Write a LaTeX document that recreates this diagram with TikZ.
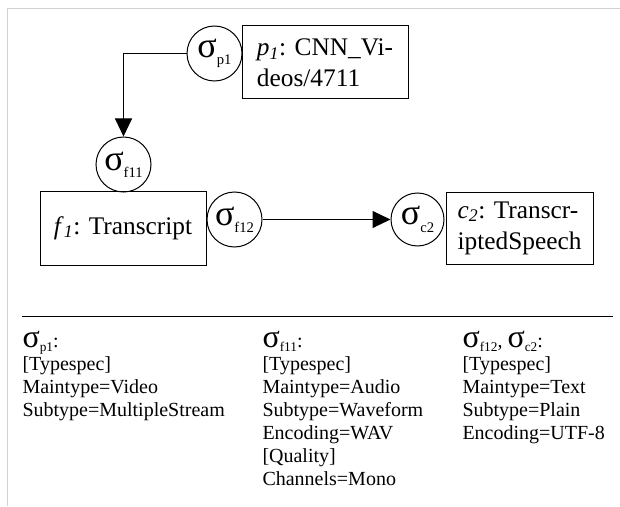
\documentclass[tikz,border=0pt]{standalone}
\usepackage{fontspec}
\setmainfont{Liberation Serif}
\usetikzlibrary{arrows.meta}

% sigma with a low subscript, inside the circles
\newcommand\csig[1]{{\fontsize{27pt}{27pt}\selectfont σ}\raisebox{-5.5pt}{\fontsize{11pt}{11pt}\selectfont #1}}
% sigma with a low subscript, in the legend headings
\newcommand\hsig[1]{{\fontsize{24pt}{24pt}\selectfont σ}\raisebox{-3.5pt}{\fontsize{10pt}{10pt}\selectfont #1}}

\tikzset{
  sigcirc/.style={draw, circle, inner sep=0pt, minimum size=41.25pt,
    font=\fontsize{19pt}{20pt}\selectfont},
  entbox/.style={draw, rectangle, inner sep=0pt, align=left,
    font=\fontsize{19pt}{23.25pt}\selectfont},
  legend/.style={anchor=base west, inner sep=0pt,
    font=\fontsize{15pt}{17.25pt}\selectfont},
  flow/.style={-{Triangle[length=13.5pt,width=12.75pt]}},
  framegray/.style={draw=black!18, line width=0.75pt}
}

\begin{document}
\begin{tikzpicture}[x=0.75pt, y=-0.75pt, line width=0.75pt]
\useasboundingbox (0,0) rectangle (620,506);

% outer frame (top and left edges)
\draw[framegray] (7,506) -- (7,9) -- (620,9);

% entities
\node[entbox, minimum width=124.5pt, minimum height=54.75pt] (p1) at (325,62.5)
  {\textit{p}\textsubscript{\textit{1}}: CNN\_Vi-\\deos/4711};
\node[entbox, minimum width=124.5pt, minimum height=55.5pt] (f1) at (123,228)
  {\textit{f}\textsubscript{\textit{1}}: Transcript};
\node[entbox, minimum width=110.25pt, minimum height=54pt] (c2) at (519.5,228)
  {\textit{c}\textsubscript{\textit{2}}: Transcr-\\iptedSpeech};

% signature circles
\node[sigcirc] (sp1) at (214.5,53.5) {\csig{p1}};
\node[sigcirc] (sf11) at (123.5,164.5) {\csig{f11}};
\node[sigcirc] (sf12) at (234.5,219.5) {\csig{f12}};
\node[sigcirc, minimum size=39.75pt] (sc2) at (417.5,219.5) {\csig{c2}};

% data flow
\draw[flow] (sp1.west) -| (sf11.north);
\draw[flow] (sf12.east) -- (sc2.west);

% separator
\draw (22,316) -- (613,316);

% legend
\node[legend] (lp1) at (22,347) {\vtop{\baselineskip=17.25pt
  \hbox{\hsig{p1}:}
  \hbox{[Typespec]}
  \hbox{Maintype=Video}
  \hbox{Subtype=MultipleStream}}};
\node[legend] (lf11) at (262,347) {\vtop{\baselineskip=17.25pt
  \hbox{\hsig{f11}:}
  \hbox{[Typespec]}
  \hbox{Maintype=Audio}
  \hbox{Subtype=Waveform}
  \hbox{Encoding=WAV}
  \hbox{[Quality]}
  \hbox{Channels=Mono}}};
\node[legend] (lc2) at (462,347) {\vtop{\baselineskip=17.25pt
  \hbox{\hsig{f12}, \hsig{c2}:}
  \hbox{[Typespec]}
  \hbox{Maintype=Text}
  \hbox{Subtype=Plain}
  \hbox{Encoding=UTF-8}}};
\end{tikzpicture}
\end{document}
